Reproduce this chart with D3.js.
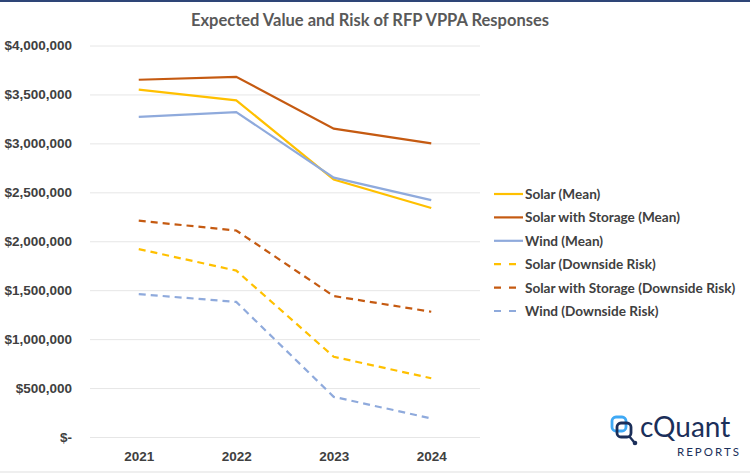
<!DOCTYPE html>
<html><head><meta charset="utf-8">
<script src="https://cdn.jsdelivr.net/npm/d3@7"></script>
<style>body{margin:0;background:#fff;}svg{display:block;font-family:Lato,"Open Sans",sans-serif;}</style>
</head><body>
<svg id="chart" width="750" height="473"></svg>
<script>
const years = ["2021","2022","2023","2024"];
const seriesNames = ["Solar (Mean)","Solar with Storage (Mean)","Wind (Mean)","Solar (Downside Risk)","Solar with Storage (Downside Risk)","Wind (Downside Risk)"];
const solarMean = [3550000, 3440000, 2630000, 2340000];
const storageMean = [3650000, 3680000, 3150000, 3000000];
const windMean = [3270000, 3320000, 2650000, 2420000];
const solarRisk = [1920000, 1700000, 820000, 600000];
const storageRisk = [2210000, 2110000, 1440000, 1280000];
const windRisk = [1460000, 1380000, 410000, 190000];
const yTicks = [0, 500000, 1000000, 1500000, 2000000, 2500000, 3000000, 3500000, 4000000];
const title = "Expected Value and Risk of RFP VPPA Responses";

const colors = ["#FFC000","#C55A11","#8FAADC","#FFC000","#C55A11","#8FAADC"];
const dashed = [false,false,false,true,true,true];
const values = [solarMean, storageMean, windMean, solarRisk, storageRisk, windRisk];

const svg = d3.select("#chart");
svg.append("rect").attr("x",0).attr("y",0).attr("width",750).attr("height",2).attr("fill","#2E4577");
svg.append("rect").attr("x",0).attr("y",471).attr("width",750).attr("height",2).attr("fill","#efefef");

const x = d3.scalePoint().domain(years).range([90,480]).padding(0.5);
const y = d3.scaleLinear().domain([0,4000000]).range([437,45.5]);

svg.append("text").attr("x",370).attr("y",26).attr("text-anchor","middle")
  .attr("font-size",16.5).attr("font-weight","bold").attr("fill","#595959").text(title);

const fmt = v => v === 0 ? "$-" : "$" + d3.format(",")(v);
const yAxis = svg.append("g").attr("transform","translate(90,0)")
  .call(d3.axisLeft(y).tickValues(yTicks).tickSize(-390).tickFormat(fmt).tickPadding(18));
yAxis.select(".domain").remove();
yAxis.selectAll(".tick line").attr("stroke","#e6e6e6").attr("stroke-width",1);
yAxis.selectAll(".tick text").attr("fill","#404040").attr("font-size",13.5).attr("font-weight","bold");

const xAxis = svg.append("g").attr("transform","translate(0,437)")
  .call(d3.axisBottom(x).tickSize(0).tickPadding(14));
xAxis.select(".domain").remove();
xAxis.selectAll(".tick text").attr("fill","#404040").attr("font-size",13.5).attr("font-weight","bold");

const line = d3.line().x((d,i)=>x(years[i])).y(d=>y(d));
values.forEach((vals,k)=>{
  svg.append("path").attr("d",line(vals)).attr("fill","none")
    .attr("stroke",colors[k]).attr("stroke-width",2.2)
    .attr("stroke-dasharray",dashed[k]?"7,5":null);
});

const lg = svg.append("g");
seriesNames.forEach((n,k)=>{
  const yy = 194 + k*23.4;
  lg.append("line").attr("x1",494).attr("x2",523).attr("y1",yy).attr("y2",yy)
    .attr("stroke",colors[k]).attr("stroke-width",2.2).attr("stroke-dasharray",dashed[k]?"7,8":null);
  lg.append("text").attr("x",525).attr("y",yy+5).attr("font-size",13.6).attr("font-weight","bold")
    .attr("fill","#404040").text(n);
});

const logo = svg.append("g");
logo.append("rect").attr("x",612).attr("y",417).attr("width",14).attr("height",14).attr("rx",4)
  .attr("fill","none").attr("stroke","#3FA9F5").attr("stroke-width",2.8);
logo.append("rect").attr("x",617).attr("y",423).attr("width",14).attr("height",14).attr("rx",4)
  .attr("fill","none").attr("stroke","#1B2F5A").attr("stroke-width",2.8);
logo.append("line").attr("x1",629).attr("y1",436).attr("x2",634).attr("y2",442)
  .attr("stroke","#1B2F5A").attr("stroke-width",2.4);
logo.append("circle").attr("cx",635).attr("cy",443).attr("r",2.3).attr("fill","#1B2F5A");
logo.append("text").attr("x",640).attr("y",437).attr("font-size",28).attr("fill","#1B2F5A")
  .attr("font-family","Lato, sans-serif").text("cQuant");
logo.append("text").attr("x",677).attr("y",456).attr("font-size",11.5).attr("fill","#1B2F5A")
  .attr("letter-spacing",2).attr("font-family","Lato, sans-serif").text("REPORTS");
</script>
</body></html>
